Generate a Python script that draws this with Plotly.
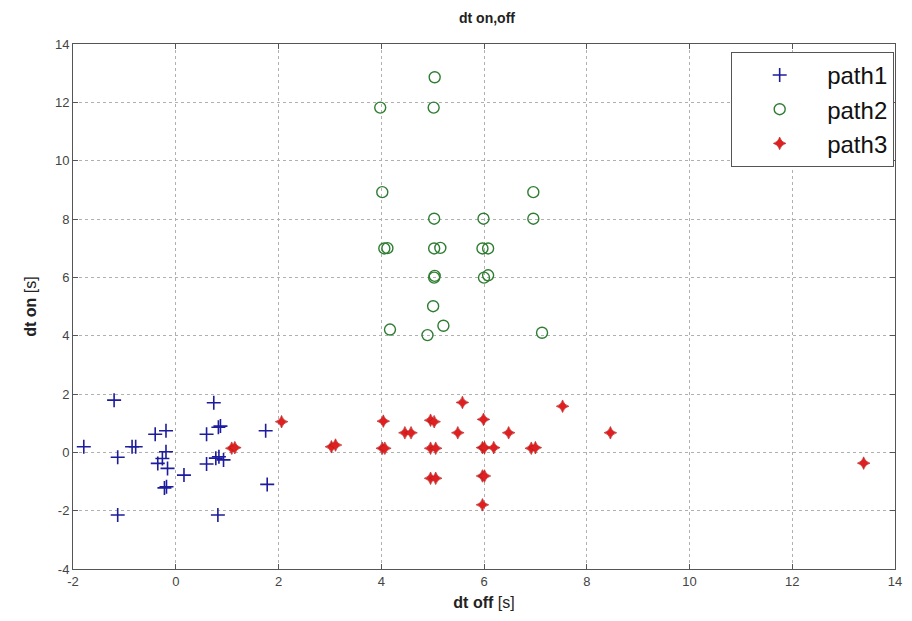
import plotly.graph_objects as go

path1_x = [-1.20, -1.79, -1.13, -0.85, -0.78, -0.40, -0.19, -0.19, -0.26, -0.35, -0.16, -0.22, -0.18,
           0.16, 0.74, 0.60, 0.83, 0.87, 0.60, 0.78, 0.84, 0.93, 0.82, -1.13, 1.75, 1.78]
path1_y = [1.79, 0.19, -0.17, 0.19, 0.19, 0.62, 0.74, 0.02, -0.21, -0.38, -0.55, -1.22, -1.18,
           -0.78, 1.70, 0.62, 0.86, 0.90, -0.40, -0.20, -0.15, -0.26, -2.15, -2.15, 0.74, -1.10]

path2_x = [5.04, 3.98, 5.02, 4.02, 6.96, 5.03, 5.99, 6.96, 4.06, 4.12, 5.03, 5.15, 5.97, 6.08,
           5.03, 5.04, 6.00, 6.08, 5.01, 4.17, 4.90, 5.21, 7.13]
path2_y = [12.86, 11.82, 11.82, 8.92, 8.92, 8.01, 8.01, 8.01, 6.99, 7.00, 6.99, 7.01, 6.99, 6.99,
           5.99, 6.05, 5.99, 6.07, 5.01, 4.21, 4.02, 4.34, 4.10]

path3_x = [1.09, 1.15, 2.06, 3.03, 3.11, 4.04, 4.02, 4.07, 4.46, 4.58, 4.96, 5.03, 4.96, 5.06,
           4.96, 5.06, 5.58, 5.49, 5.99, 5.97, 6.01, 6.19, 5.97, 6.01, 5.97, 6.48, 6.92, 7.00,
           7.53, 8.46, 13.39]
path3_y = [0.14, 0.16, 1.05, 0.19, 0.25, 1.07, 0.14, 0.14, 0.67, 0.67, 1.10, 1.05, 0.14, 0.14,
           -0.89, -0.89, 1.71, 0.67, 1.13, 0.16, 0.16, 0.16, -0.81, -0.81, -1.80, 0.67, 0.14, 0.16,
           1.58, 0.67, -0.37]

x_ticks = [-2, 0, 2, 4, 6, 8, 10, 12, 14]
x_labels = ["-2", "0", "2", "4", "6", "8", "10", "12", "14"]
y_ticks = [-4, -2, 0, 2, 4, 6, 8, 10, 12, 14]
y_labels = ["-4", "-2", "0", "2", "4", "6", "8", "10", "12", "14"]

FONT = "Liberation Sans, Arial, sans-serif"

fig = go.Figure()
fig.add_trace(go.Scatter(
    x=path1_x, y=path1_y, mode="markers", name="path1",
    marker=dict(symbol="cross-thin-open", size=10, color="#1c1c9c",
                line=dict(width=1.6, color="#1c1c9c"))))
fig.add_trace(go.Scatter(
    x=path2_x, y=path2_y, mode="markers", name="path2",
    marker=dict(symbol="circle-open", size=11, color="#2e7d32",
                line=dict(width=1.4, color="#2e7d32"))))
fig.add_trace(go.Scatter(
    x=path3_x, y=path3_y, mode="markers", name="path3",
    marker=dict(symbol="star-diamond", size=9, color="#e02020",
                line=dict(width=0.6, color="#b01818"))))

axis_common = dict(
    showgrid=True, gridcolor="#b0b0b0", griddash="dot", gridwidth=1,
    zeroline=False, showline=True, linecolor="#555555", linewidth=1, mirror="ticks",
    ticks="inside", ticklen=5, tickcolor="#555555",
    tickfont=dict(family=FONT, size=13, color="#444444"),
)

fig.update_layout(
    width=912, height=621,
    margin=dict(l=73, r=10, t=44, b=52),
    paper_bgcolor="white", plot_bgcolor="white",
    title=dict(text="<b>dt on,off</b>", x=0.534, xanchor="center", y=0.971, yanchor="middle",
               font=dict(family=FONT, size=14, color="#222222")),
    xaxis=dict(range=[-2, 14], tickvals=x_ticks, ticktext=x_labels, **axis_common,
               title=dict(text="<b>dt off</b> [s]", standoff=9,
                          font=dict(family=FONT, size=16, color="#222222"))),
    yaxis=dict(range=[-4, 14], tickvals=y_ticks, ticktext=y_labels, **axis_common,
               title=dict(text="<b>dt on</b> [s]", standoff=14,
                          font=dict(family=FONT, size=16, color="#222222"))),
    legend=dict(x=0.999, y=0.985, xanchor="right", yanchor="top",
                bgcolor="white", bordercolor="#555555", borderwidth=1,
                font=dict(family=FONT, size=24, color="#111111"),
                itemwidth=85),
    showlegend=True,
)

fig.write_html("out.html")
